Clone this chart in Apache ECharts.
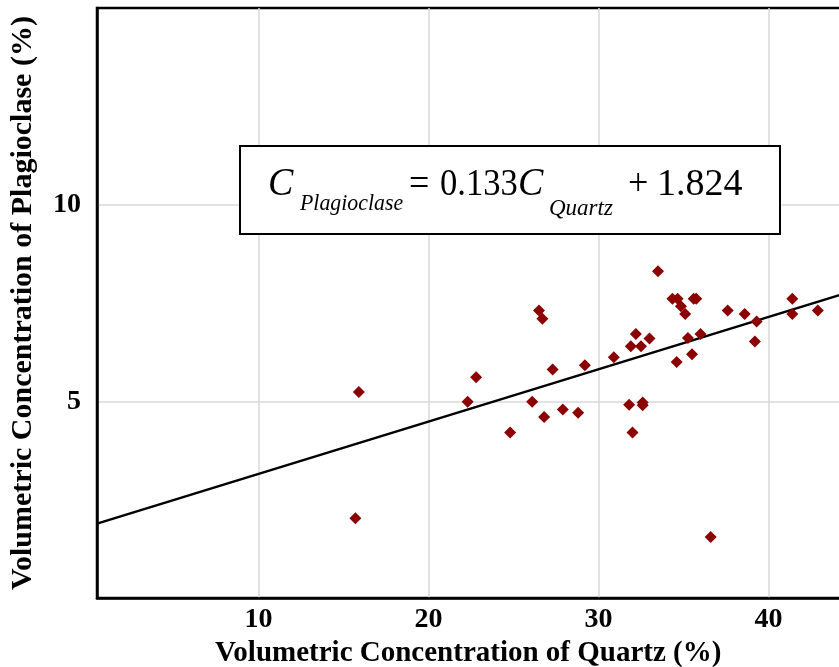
<!DOCTYPE html>
<html><head><meta charset="utf-8">
<script src="https://cdn.jsdelivr.net/npm/echarts@6/dist/echarts.min.js"></script>
<style>html,body{margin:0;padding:0;background:#fff}#c{width:839px;height:667px}</style>
</head><body><div id="c"></div>
<script>
// Data
const quartz = [33.5,34.35,34.65,34.85,35.1,35.6,35.75,37.6,38.6,39.3,39.2,41.4,41.4,42.9,
  32.2,31.9,32.5,33.0,35.26,36.0,35.5,34.6,30.9,29.2,27.3,22.8,22.3,26.1,26.8,27.9,28.8,24.8,
  26.5,26.7,31.8,32.6,32.6,32.0,15.9,15.7,36.6];
const plagioclase = [8.31,7.61,7.61,7.42,7.22,7.61,7.61,7.31,7.22,7.03,6.52,7.61,7.22,7.31,
  6.71,6.40,6.40,6.60,6.61,6.71,6.20,6.0,6.12,5.92,5.81,5.61,4.99,4.99,4.60,4.79,4.71,4.21,
  7.31,7.10,4.91,4.97,4.90,4.21,5.24,2.03,1.55];
const slope = 0.133, intercept = 1.824;
const fitRange = [0.5, 45];
const xTitle = 'Volumetric Concentration of Quartz (%)';
const yTitle = 'Volumetric Concentration of Plagioclase (%)';

const pts = quartz.map((x,i)=>[x, plagioclase[i]]);
const fit = fitRange.map(x=>[x, slope*x+intercept]);
const serif = '"Liberation Serif","Times New Roman",serif';

function eqText(x, y, text, font, sx){
  return {type:'text', x:x, y:y, scaleX:sx, z:11,
    style:{text:text, font:font, fill:'#000', textVerticalAlign:'bottom'}};
}

const chart = echarts.init(document.getElementById('c'), null, {renderer:'canvas'});
chart.setOption({
  animation:false,
  backgroundColor:'#fff',
  grid:{left:97, top:8, right:-14.5, bottom:69, outerBoundsMode:'none', containLabel:false,
    show:true, borderColor:'#000', borderWidth:2.5, backgroundColor:'transparent'},
  xAxis:{type:'value', min:0.5, max:45, splitNumber:5,
    name:xTitle, nameLocation:'middle', nameGap:37,
    nameTextStyle:{fontFamily:serif, fontWeight:'bold', fontSize:29, color:'#000', padding:[0,14,0,0]},
    axisLine:{show:true, onZero:false, lineStyle:{color:'#000', width:2.5}},
    axisTick:{show:false},
    axisLabel:{showMinLabel:false, showMaxLabel:false, fontFamily:serif, fontWeight:'bold', fontSize:28, color:'#000', margin:8},
    splitLine:{show:true, showMinLine:false, showMaxLine:false, lineStyle:{color:'#d9d9d9', width:1.5}}},
  yAxis:{type:'value', min:0, max:15, interval:5,
    name:yTitle, nameLocation:'middle', nameGap:59,
    nameTextStyle:{fontFamily:serif, fontWeight:'bold', fontSize:30, color:'#000'},
    axisLine:{show:true, onZero:false, lineStyle:{color:'#000', width:2.5}},
    axisTick:{show:false},
    axisLabel:{showMinLabel:false, showMaxLabel:false, fontFamily:serif, fontWeight:'bold', fontSize:28, color:'#000', margin:16},
    splitLine:{show:true, showMinLine:false, showMaxLine:false, lineStyle:{color:'#d9d9d9', width:1.5}}},
  series:[
    {type:'line', data:fit, showSymbol:false, symbol:'none', lineStyle:{color:'#000', width:2.5}, z:2},
    {type:'scatter', data:pts, symbol:'diamond', symbolSize:12, itemStyle:{color:'#8b0000', opacity:1}, z:3}
  ],
  graphic:[
    {type:'rect', shape:{x:240, y:146, width:540, height:88}, style:{fill:'#fff', stroke:'#000', lineWidth:2}, z:10},
    eqText(268, 204, 'C', 'italic 40px '+serif, 0.95),
    eqText(300, 215, 'Plagioclase', 'italic 23px '+serif, 0.95),
    eqText(409, 204, '=', '38px '+serif, 0.95),
    eqText(440, 204, '0.133', '38px '+serif, 0.91),
    eqText(518, 204, 'C', 'italic 40px '+serif, 0.95),
    eqText(549, 220, 'Quartz', 'italic 23px '+serif, 1.0),
    eqText(628, 204, '+', '38px '+serif, 0.95),
    eqText(657, 204, '1.824', '38px '+serif, 1.0)
  ]
});
</script></body></html>
